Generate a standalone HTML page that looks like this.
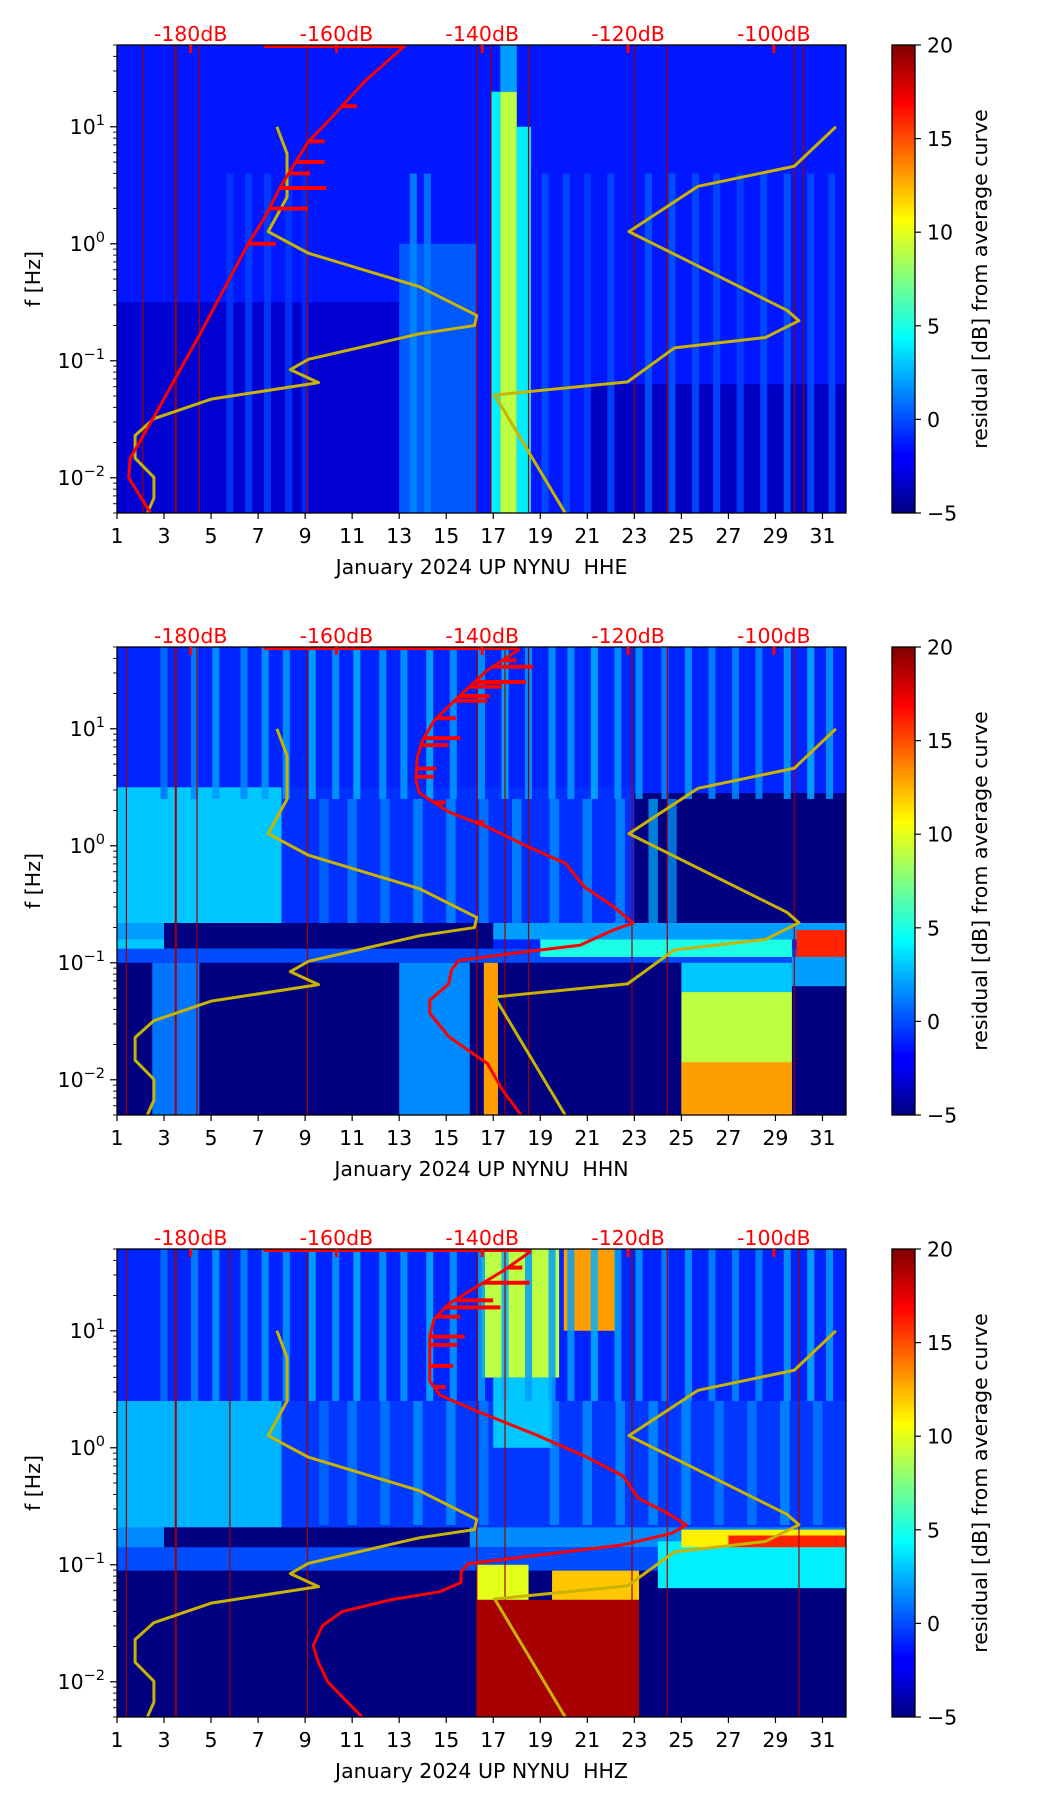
<!DOCTYPE html>
<html><head><meta charset="utf-8">
<style>
html,body{margin:0;padding:0;background:#fff;}
svg{display:block;font-family:"DejaVu Sans","Liberation Sans",sans-serif;}
</style></head>
<body>
<svg id="fig" width="1052" height="1806" viewBox="0 0 1052 1806" xmlns="http://www.w3.org/2000/svg">
<defs>
<linearGradient id="jetgrad" x1="0" y1="1" x2="0" y2="0">
<stop offset="0" stop-color="#000080"/><stop offset="0.11" stop-color="#0000ff"/>
<stop offset="0.125" stop-color="#0000ff"/><stop offset="0.375" stop-color="#00ffff"/>
<stop offset="0.5" stop-color="#80ff80"/><stop offset="0.625" stop-color="#ffff00"/>
<stop offset="0.875" stop-color="#ff0000"/><stop offset="1" stop-color="#800000"/>
</linearGradient>
</defs>
</svg>
<script>
// ---- shared data ----
const panelTitles = ["January 2024 UP NYNU\u00a0\u00a0HHE","January 2024 UP NYNU\u00a0\u00a0HHN","January 2024 UP NYNU\u00a0\u00a0HHZ"];
const dayTicks = [1,3,5,7,9,11,13,15,17,19,21,23,25,27,29,31];
const dbTicks = [-180,-160,-140,-120,-100];
const cbTicks = [-5,0,5,10,15,20];
// yellow reference curve (day, frequency Hz)
const yellowLeftDays = [7.8,8.23,8.23,7.43,9.14,13.86,16.3,16.2,13.86,9.14,8.37,9.57,5.0,2.57,1.77,1.77,2.57,2.57,2.29];
const yellowLeftFreq = [10,5.9,2.5,1.27,0.83,0.43,0.244,0.2,0.17,0.103,0.084,0.065,0.047,0.032,0.023,0.0147,0.0101,0.0067,0.005];
const yellowRightDays = [31.57,29.8,25.71,22.77,29.49,30.0,28.57,24.71,22.71,17.06,20.06];
const yellowRightFreq = [10,4.6,3.1,1.27,0.27,0.22,0.158,0.129,0.066,0.051,0.005];
// red mean PSD curves (dB, log10 f)
const red1Db = [-150.5,-156.1,-161.1,-163.9,-167.6,-169.9,-172.2,-178.6,-185.0,-188.3,-188.5,-185.5];
const red1Lf = [1.699,1.39,1.049,0.87,0.495,0.218,-0.01,-0.759,-1.476,-1.834,-2.0,-2.301];
const red1SpikeLf = [0.0,0.301,0.477,0.602,0.699,0.875,1.176,1.38];
const red1SpikeDb = [-168.3,-163.9,-161.4,-163.6,-161.6,-161.6,-157.2,-156.0];
const red2Db = [-134.9,-139.3,-143.3,-146.6,-148.2,-148.9,-149.1,-148.6,-144.6,-139.3,-134,-128.6,-126,-122,-119.3,-122,-126.6,-135.9,-143.2,-144.2,-144.6,-147.2,-147.2,-144.6,-141.9,-139.3,-137.2,-134.7];
const red2Lf = [1.68,1.5,1.27,1.07,0.9,0.76,0.56,0.45,0.29,0.16,0.0,-0.15,-0.35,-0.52,-0.66,-0.72,-0.85,-0.92,-0.98,-1.06,-1.18,-1.32,-1.43,-1.63,-1.75,-1.86,-2.09,-2.3];
const red2SpikeLf = [1.585,1.53,1.4,1.36,1.28,1.24,1.09,0.92,0.86,0.66,0.59,0.37,0.2];
const red2SpikeDb = [-135.3,-133,-134,-137.3,-139,-139.3,-143.6,-143,-144.6,-146.3,-146.6,-145,-139.7];
const red3Db = [-133.3,-137.2,-141.2,-144.6,-146.6,-147.2,-147.2,-147.2,-145.8,-140.6,-132.6,-126,-120.7,-118.6,-114,-112,-114,-120.7,-132.6,-141.9,-142.9,-142.9,-145.8,-152.6,-159.2,-161.9,-163.2,-162.5,-161.2,-156.5];
const red3Lf = [1.68,1.51,1.36,1.23,1.1,0.95,0.77,0.57,0.45,0.31,0.11,-0.07,-0.24,-0.43,-0.58,-0.66,-0.73,-0.83,-0.92,-0.99,-1.06,-1.15,-1.23,-1.3,-1.4,-1.52,-1.69,-1.83,-2.0,-2.3];
const red3SpikeLf = [1.54,1.41,1.26,1.2,1.12,0.95,0.88,0.7,0.52];
const red3SpikeDb = [-134.5,-133.5,-138.5,-137.5,-143,-142.4,-143.4,-144,-145];
// spectrogram residual regions: [day0, day1, log10f0, log10f1, residual dB]
const spec1Regions = [
 [1,32,-2.31,1.7,-1.3],[1,13,-2.31,-0.5,-3],[21,32,-2.31,-1.2,-3.3],[13,16.3,-2.31,0,0.3],
 [16.9,17.3,-2.31,1.3,4],[17.3,18.0,-2.31,1.3,9],[18.0,18.6,-2.31,1.0,4],[17.3,18,1.3,1.7,2]];
const spec1StreakDays = [5.8,6.6,7.4,8.3,9.0,13.6,14.2,19.2,20.1,21.0,22.0,23.6,24.6,25.6,26.5,27.5,28.5,29.5,30.5,31.4];
const spec1StreakVals = [-0.5,-0.3,-0.3,-0.5,-0.8,1.5,1.2,0,0,-0.3,0,0.3,0.3,0,0,-0.2,0,0.3,0,0];
const spec2Regions = [
 [1,32,-2.31,1.7,-1.0],[1,8,-0.9,0.5,3],[8,23,-0.72,0.5,-0.7],[23,32,-0.72,0.45,-5],
 [1,32,-0.8,-0.66,2],[3,17,-0.88,-0.66,-5],[1,32,-1.0,-0.88,0],[1,32,-2.31,-1.0,-5],
 [13,16,-2.31,-1.0,1.5],[2.5,4.5,-2.31,-1.0,1],[25,29.7,-2.31,-1.25,9],[25,29.7,-2.31,-1.85,13],
 [25,29.7,-1.25,-1.0,3],[19,29.7,-0.95,-0.8,5],[29.7,32,-1.2,-0.95,2],[29.9,32,-0.95,-0.72,16],[16.6,17.2,-2.31,-1.0,13]];
const spec2StreakDays = [3.0,4.3,5.2,6.4,7.3,8.2,9.3,10.3,11.2,12.3,13.2,14.3,15.3,16.5,17.5,18.5,19.5,20.3,21.3,22.3,23.2,24.3,25.3,26.3,27.3,28.3,29.5,30.5,31.3];
const spec2StreakVals = [1,1.5,2,1.5,2,2,2.5,2,2.5,2,2,2.5,2,2,2.5,2,2,2,2.5,2,2,1.5,2,1.5,1.5,1.5,2,2.5,2];
const spec2MidDays = [9.8,11.0,12.4,13.8,15.2,16.6,18.0,19.6,21.0,22.4,23.8,24.6];
const spec2MidVals = [1,1.5,1.5,2,2,1.5,2,2,2,2,2.5,2];
const spec3Regions = [
 [1,32,-2.31,1.7,-1.0],[1,8,-0.9,0.4,2.5],[8,32,-0.7,0.4,-0.5],
 [1,32,-0.85,-0.68,1.5],[3,16,-0.88,-0.68,-5],[1,32,-1.05,-0.85,0],[1,32,-2.31,-1.05,-5],
 [16.3,18.5,-1.3,-1.0,10],[19.5,23.2,-1.3,-1.05,12],[16.3,23.2,-2.31,-1.3,19],
 [24,32,-1.2,-0.8,4],[25,32,-0.85,-0.7,11],[27,32,-0.85,-0.75,16],
 [16.5,19.8,0.6,1.7,9],[20,22.2,1.0,1.7,13],[17,19.5,0.0,0.6,3]];
const spec3StreakDays = spec2StreakDays;
const spec3StreakVals = [1,1.5,2,1.5,2,2,2.5,2,2.5,2,2,2.5,2,2,2.5,2,2,2,2.5,2,2,1.5,2,1.5,1.5,1.5,2,2.5,2];
const spec3MidDays = [9.8,11.0,12.4,13.8,15.2,16.6,19.6,21.0,22.4,23.8,25.2,26.6,28.0,29.4,30.8];
const spec3MidVals = [1,1.5,1.5,2,2,1.5,2,2,2,2,2,1.5,1.5,2,1.5];
// thin dark-red vertical lines (data gaps) per panel
const gapDays1 = [2.1,3.5,4.5,9.1,16.3,16.9,18.5,23.0,24.4,29.8,30.2];
const gapDays2 = [1.4,3.5,4.4,9.1,16.3,17.5,18.5,22.9,24.4,29.8];
const gapDays3 = [1.4,3.5,5.8,9.1,16.3,17.5,22.9,24.4,30.0];

// ---- layout ----
const L=117, W=729, H=468, tops=[45,647,1249];
const svg=document.getElementById('fig');
const NS='http://www.w3.org/2000/svg';
function mk(tag,attrs,parent){const e=document.createElementNS(NS,tag);for(const k in attrs)e.setAttribute(k,attrs[k]);(parent||svg).appendChild(e);return e;}
function jet(v){let t=(v+5)/25;t=Math.max(0,Math.min(1,t));
 const c=x=>Math.round(255*Math.max(0,Math.min(1,x)));
 let r=1.5-Math.abs(4*t-3),g=1.5-Math.abs(4*t-2),b=1.5-Math.abs(4*t-1);
 return `rgb(${c(r)},${c(g)},${c(b)})`;}
const LOGTOP=Math.log10(50), LOGBOT=Math.log10(0.005);
function xDay(d){return L+(d-1)*W/31;}
function xDb(db){return L+(db+190.1)*W/100;}

const panels=[
 {regions:spec1Regions,sd:spec1StreakDays,sv:spec1StreakVals,sr:[-2.31,0.6],md:[],mv:[],gaps:gapDays1,rdb:red1Db,rlf:red1Lf,sl:red1SpikeLf,sdb:red1SpikeDb,topEnd:-150.5},
 {regions:spec2Regions,sd:spec2StreakDays,sv:spec2StreakVals,sr:[0.4,1.7],md:spec2MidDays,mv:spec2MidVals,gaps:gapDays2,rdb:red2Db,rlf:red2Lf,sl:red2SpikeLf,sdb:red2SpikeDb,topEnd:-134.9},
 {regions:spec3Regions,sd:spec3StreakDays,sv:spec3StreakVals,sr:[0.4,1.7],md:spec3MidDays,mv:spec3MidVals,gaps:gapDays3,rdb:red3Db,rlf:red3Lf,sl:red3SpikeLf,sdb:red3SpikeDb,topEnd:-133.3}];

panels.forEach((p,i)=>{
 const T=tops[i];
 const yLf=lf=>T+(LOGTOP-lf)*H/(LOGTOP-LOGBOT);
 const g=mk('g',{});
 
 
 const cp=mk('clipPath',{id:'clip'+i},g);
 mk('rect',{x:L,y:T,width:W,height:H},cp);
 const hm=mk('g',{'clip-path':`url(#clip${i})`},g);
 
 
 p.regions.forEach(r=>{
  const x0=xDay(r[0]),x1=xDay(r[1]),y0=yLf(r[3]),y1=yLf(r[2]);
  const c=mk('rect',{x:x0,y:y0,width:x1-x0,height:y1-y0,fill:jet(r[4])},hm);
  
  
 });
 p.sd.forEach((d,k)=>{
  const x0=xDay(d-0.15),x1=xDay(d+0.15),y0=yLf(p.sr[1]),y1=yLf(p.sr[0]);
  const c=mk('rect',{x:x0,y:y0,width:x1-x0,height:y1-y0,fill:jet(p.sv[k]),opacity:0.85},hm);
  
  
 });
 p.md.forEach((d,k)=>{
  const x0=xDay(d-0.2),x1=xDay(d+0.2),y0=yLf(0.4),y1=yLf(-0.66);
  const c=mk('rect',{x:x0,y:y0,width:x1-x0,height:y1-y0,fill:jet(p.mv[k]),opacity:0.7},hm);
  
  
 });
 p.gaps.forEach(d=>{
  const ln=mk('line',{x1:xDay(d),x2:xDay(d),y1:T,y2:T+H,stroke:'#a00000','stroke-width':d===3.5?2:1.2},hm);
  
  
 });
 [[yellowLeftDays,yellowLeftFreq],[yellowRightDays,yellowRightFreq]].forEach((c,k)=>{
  const pts=c[0].map((d,j)=>xDay(d)+','+yLf(Math.log10(c[1][j]))).join(' ');
  const pl=mk('polyline',{points:pts,fill:'none',stroke:'#c8b400','stroke-width':3,'stroke-linejoin':'round'},hm);
  
  
 });
 const rp=p.rdb.map((db,j)=>xDb(db)+','+yLf(p.rlf[j])).join(' ');
 const rl=mk('polyline',{points:rp,fill:'none',stroke:'#ff0000','stroke-width':3,'stroke-linejoin':'round'},hm);
 
 
 p.sl.forEach((lf,j)=>{
  let k=0;while(k<p.rlf.length-1&&p.rlf[k+1]>lf)k++;
  const a=p.rlf[k],b=p.rlf[k+1],t=(lf-a)/(b-a);
  const db0=p.rdb[k]+t*(p.rdb[k+1]-p.rdb[k]);
  const s=mk('line',{x1:xDb(db0),x2:xDb(p.sdb[j]),y1:yLf(lf),y2:yLf(lf),stroke:'#ff0000','stroke-width':4},hm);
  
  
 });
 const tl=mk('line',{x1:xDb(-170),x2:xDb(p.topEnd),y1:T+1.5,y2:T+1.5,stroke:'#ff0000','stroke-width':3},hm);
 
 
 const fr=mk('rect',{x:L,y:T,width:W,height:H,fill:'none',stroke:'#000','stroke-width':1.3},g);
 
 
 dayTicks.forEach(d=>{
  mk('line',{x1:xDay(d),x2:xDay(d),y1:T+H,y2:T+H+6,stroke:'#000','stroke-width':1.2},g);
  const t=mk('text',{x:xDay(d),y:T+H+30,'font-size':20.5,'text-anchor':'middle',fill:'#000'},g);
  t.textContent=d;
  
  
 });
 const xl=mk('text',{x:L+W/2,y:T+H+61,'font-size':20.5,'text-anchor':'middle',fill:'#000'},g);
 xl.textContent=panelTitles[i];
 
 
 for(let e=-3;e<=1;e++){for(let m=1;m<=9;m++){
  const lf=e+Math.log10(m); if(lf<LOGBOT-1e-9||lf>LOGTOP+1e-9)continue;
  const y=yLf(lf); mk('line',{x1:L,x2:L-(m===1?7:4),y1:y,y2:y,stroke:'#000','stroke-width':m===1?1.2:0.9},g);
  if(m===1){const t=mk('text',{x:L-12,y:y+7,'font-size':20.5,'text-anchor':'end',fill:'#000'},g);
   
   
   t.innerHTML='10<tspan dy="-9" font-size="14.5">'+(e<0?'\u2212'+(-e):e)+'</tspan>';}
 }}
 const yl=mk('text',{x:0,y:0,'font-size':20.5,'text-anchor':'middle',fill:'#000',transform:`translate(40,${T+H/2}) rotate(-90)`},g);
 yl.textContent='f [Hz]';
 
 
 dbTicks.forEach(db=>{
  mk('line',{x1:xDb(db),x2:xDb(db),y1:T,y2:T+8,stroke:'#ff0000','stroke-width':3},g);
  const t=mk('text',{x:xDb(db),y:T-4,'font-size':20.5,'text-anchor':'middle',fill:'#ff0000'},g);
  t.textContent=db+'dB';
  
  
 });
 const cb=mk('rect',{x:892,y:T,width:23,height:H,fill:'url(#jetgrad)',stroke:'#000','stroke-width':1.3},g);
 
 
 cbTicks.forEach(v=>{
  const y=T+H-(v+5)/25*H;
  mk('line',{x1:915,x2:921,y1:y,y2:y,stroke:'#000','stroke-width':1.2},g);
  const t=mk('text',{x:927,y:y+7.5,'font-size':20.5,fill:'#000'},g);
  t.textContent=v<0?'\u2212'+(-v):v;
  
  
 });
 const cl=mk('text',{x:0,y:0,'font-size':20.5,'text-anchor':'middle',fill:'#000',transform:`translate(987,${T+H/2}) rotate(-90)`},g);
 cl.textContent='residual [dB] from average curve';
 
 
});
</script>
</body></html>
